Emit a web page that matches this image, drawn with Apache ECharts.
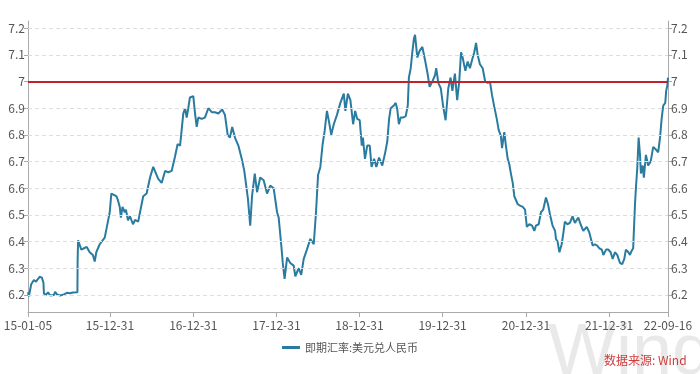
<!DOCTYPE html>
<html><head><meta charset="utf-8">
<script src="https://cdn.jsdelivr.net/npm/echarts@6/dist/echarts.min.js"></script>
<style>html,body{margin:0;padding:0;background:#fff}#c{width:700px;height:374px}</style>
</head><body><div id="c"></div>
<script>
const seriesName = '即期汇率:美元兑人民币';
const sourceText = '数据来源: Wind';
const watermarkText = 'Wind';
const xTickDates = ['2015-01-05','2015-12-31','2016-12-31','2017-12-31','2018-12-31','2019-12-31','2020-12-31','2021-12-31','2022-09-16'];
const yTicks = [6.2,6.3,6.4,6.5,6.6,6.7,6.8,6.9,7.0,7.1,7.2];
const refLevel = 7;
const yMin = 6.136, yMax = 7.227;
const dates = [
'2015-01-05','2015-01-09','2015-01-19','2015-01-31','2015-02-09','2015-02-25','2015-03-07','2015-03-14','2015-03-16','2015-03-25',
'2015-04-03','2015-04-12','2015-04-20','2015-04-29','2015-05-04','2015-05-12','2015-05-26','2015-06-12','2015-06-25','2015-07-08',
'2015-07-22','2015-08-10','2015-08-11','2015-08-13','2015-08-15','2015-08-27','2015-09-08','2015-09-20','2015-10-03','2015-10-17',
'2015-10-25','2015-11-01','2015-11-16','2015-12-08','2015-12-22','2015-12-30','2016-01-06','2016-01-13','2016-01-28','2016-02-04',
'2016-02-12','2016-02-17','2016-02-24','2016-03-05','2016-03-10','2016-03-19','2016-03-28','2016-04-10','2016-04-19','2016-05-03',
'2016-05-11','2016-05-25','2016-06-09','2016-06-24','2016-07-08','2016-07-16','2016-07-30','2016-08-14','2016-08-29','2016-09-12',
'2016-09-27','2016-10-12','2016-10-23','2016-11-03','2016-11-17','2016-11-25','2016-12-02','2016-12-09','2016-12-16','2016-12-31',
'2017-01-07','2017-01-15','2017-01-22','2017-02-06','2017-02-20','2017-03-07','2017-03-22','2017-04-05','2017-04-20','2017-05-07',
'2017-05-19','2017-05-31','2017-06-10','2017-06-20','2017-07-02','2017-07-17','2017-08-01','2017-08-12','2017-08-28','2017-09-07',
'2017-09-15','2017-09-27','2017-10-07','2017-10-21','2017-11-05','2017-11-20','2017-12-04','2017-12-19','2018-01-03','2018-01-10',
'2018-01-21','2018-01-28','2018-02-05','2018-02-16','2018-03-02','2018-03-17','2018-03-24','2018-04-08','2018-04-19','2018-04-30',
'2018-05-14','2018-05-29','2018-06-13','2018-06-23','2018-07-02','2018-07-12','2018-07-22','2018-07-31','2018-08-10','2018-08-20',
'2018-08-29','2018-09-09','2018-09-23','2018-10-08','2018-10-23','2018-10-30','2018-11-10','2018-11-21','2018-11-27','2018-12-03',
'2018-12-12','2018-12-21','2019-01-01','2019-01-10','2019-01-15','2019-01-24','2019-02-03','2019-02-14','2019-02-22','2019-03-05',
'2019-03-15','2019-03-27','2019-04-10','2019-04-22','2019-05-02','2019-05-10','2019-05-17','2019-05-31','2019-06-08','2019-06-15',
'2019-06-22','2019-06-30','2019-07-10','2019-07-22','2019-07-31','2019-08-05','2019-08-13','2019-08-20','2019-08-27','2019-09-01',
'2019-09-11','2019-09-21','2019-10-03','2019-10-15','2019-10-25','2019-11-04','2019-11-16','2019-11-28','2019-12-03','2019-12-12',
'2019-12-23','2020-01-02','2020-01-13','2020-01-25','2020-02-04','2020-02-12','2020-02-23','2020-03-04','2020-03-13','2020-03-21',
'2020-03-28','2020-04-09','2020-04-19','2020-04-29','2020-05-08','2020-05-18','2020-05-26','2020-06-02','2020-06-12','2020-06-24',
'2020-07-05','2020-07-16','2020-07-26','2020-08-04','2020-08-14','2020-08-25','2020-09-02','2020-09-12','2020-09-17','2020-09-27',
'2020-10-04','2020-10-12','2020-10-19','2020-10-26','2020-11-03','2020-11-10','2020-11-17','2020-11-25','2020-12-05','2020-12-17',
'2020-12-27','2021-01-04','2021-01-15','2021-01-27','2021-02-06','2021-02-13','2021-02-25','2021-03-07','2021-03-17','2021-03-29',
'2021-04-07','2021-04-16','2021-04-27','2021-05-08','2021-05-12','2021-05-19','2021-05-27','2021-06-06','2021-06-13','2021-06-20',
'2021-07-01','2021-07-12','2021-07-24','2021-08-03','2021-08-18','2021-08-28','2021-09-09','2021-09-24','2021-10-05','2021-10-20',
'2021-10-30','2021-11-09','2021-11-18','2021-11-29','2021-12-06','2021-12-18','2021-12-28','2022-01-07','2022-01-16','2022-01-26',
'2022-02-05','2022-02-17','2022-02-27','2022-03-08','2022-03-15','2022-03-26','2022-04-02','2022-04-09','2022-04-16','2022-04-24',
'2022-04-28','2022-05-04','2022-05-10','2022-05-16','2022-05-20','2022-05-28','2022-06-02','2022-06-11','2022-06-21','2022-07-02',
'2022-07-13','2022-07-25','2022-08-04','2022-08-12','2022-08-19','2022-08-26','2022-09-04','2022-09-08','2022-09-13','2022-09-16'
];
const rates = [
6.21,6.195,6.24,6.256,6.25,6.268,6.265,6.245,6.205,6.20,
6.21,6.198,6.205,6.20,6.212,6.202,6.198,6.202,6.208,6.206,
6.209,6.21,6.33,6.405,6.41,6.37,6.375,6.38,6.36,6.35,
6.325,6.36,6.39,6.415,6.475,6.51,6.58,6.575,6.57,6.555,
6.53,6.49,6.53,6.51,6.52,6.48,6.495,6.465,6.481,6.475,
6.51,6.57,6.58,6.64,6.68,6.685,6.635,6.62,6.665,6.66,
6.665,6.72,6.765,6.76,6.88,6.90,6.865,6.90,6.94,6.945,
6.885,6.83,6.865,6.86,6.865,6.90,6.885,6.885,6.88,6.895,
6.875,6.80,6.79,6.83,6.79,6.76,6.71,6.665,6.56,6.46,
6.57,6.655,6.585,6.64,6.63,6.58,6.61,6.60,6.51,6.49,
6.39,6.32,6.26,6.34,6.32,6.31,6.27,6.30,6.275,6.335,
6.37,6.41,6.39,6.51,6.65,6.68,6.765,6.815,6.89,6.845,
6.80,6.84,6.875,6.92,6.955,6.89,6.955,6.93,6.93,6.84,
6.89,6.86,6.855,6.76,6.79,6.71,6.76,6.76,6.68,6.71,
6.68,6.715,6.685,6.73,6.775,6.86,6.90,6.91,6.92,6.895,
6.84,6.865,6.865,6.87,6.91,7.015,7.05,7.11,7.16,7.175,
7.09,7.115,7.13,7.08,7.035,6.98,7.00,7.025,7.05,6.995,
6.975,6.91,6.855,6.975,7.015,6.965,7.03,6.93,7.00,7.11,
7.09,7.04,7.075,7.05,7.08,7.11,7.145,7.10,7.065,7.05,
7.00,6.995,7.00,6.95,6.905,6.86,6.82,6.795,6.75,6.81,
6.76,6.71,6.69,6.655,6.62,6.57,6.565,6.54,6.535,6.53,
6.52,6.455,6.465,6.46,6.44,6.46,6.465,6.51,6.52,6.565,
6.54,6.50,6.46,6.44,6.41,6.40,6.36,6.39,6.43,6.475,
6.465,6.47,6.495,6.47,6.49,6.465,6.44,6.455,6.435,6.385,
6.39,6.385,6.375,6.37,6.35,6.37,6.37,6.36,6.335,6.36,
6.35,6.32,6.315,6.335,6.37,6.36,6.35,6.365,6.375,6.54,
6.60,6.675,6.79,6.725,6.655,6.685,6.64,6.725,6.685,6.70,
6.755,6.745,6.735,6.79,6.86,6.91,6.92,6.965,6.985,7.015
];

const ts = s => Date.parse(s + 'T00:00:00Z');
const pad = n => (n < 10 ? '0' : '') + n;
const fmtDate = v => { const d = new Date(v); return String(d.getUTCFullYear()).slice(2) + '-' + pad(d.getUTCMonth() + 1) + '-' + pad(d.getUTCDate()); };
const xTickVals = xTickDates.map(ts);
const lineData = dates.map((d, i) => [ts(d), rates[i]]);
const FONT = '"Noto Sans CJK SC","Noto Sans",sans-serif';
const axisGray = '#aaaaaa';
const labelColor = '#555555';
const lineColor = '#2a7ba0';

function yAxisCfg(pos) {
  return {
    type: 'value', position: pos, min: yMin, max: yMax,
    axisLine: { show: true, lineStyle: { color: axisGray } },
    axisTick: { show: true, inside: false, length: 4, customValues: yTicks, lineStyle: { color: axisGray } },
    axisLabel: { customValues: yTicks, color: labelColor, fontSize: 12, fontFamily: FONT, margin: 3,
      formatter: v => String(Math.round(v * 10) / 10) },
    splitLine: { show: false }
  };
}

const chart = echarts.init(document.getElementById('c'), null, { renderer: 'canvas' });
chart.setOption({
  animation: false,
  backgroundColor: '#ffffff',
  grid: { left: 28, right: 32, top: 21, bottom: 62, containLabel: false },
  legend: {
    data: [{ name: seriesName, icon: 'rect' }], bottom: 16, left: 'center',
    itemWidth: 18, itemHeight: 3, itemGap: 6,
    textStyle: { color: labelColor, fontSize: 11, fontFamily: FONT }
  },
  xAxis: {
    type: 'value', min: xTickVals[0], max: xTickVals[xTickVals.length - 1],
    axisLine: { show: true, lineStyle: { color: axisGray } },
    axisTick: { show: true, length: 5, customValues: xTickVals, lineStyle: { color: axisGray } },
    axisLabel: { customValues: xTickVals, formatter: fmtDate, color: labelColor, fontSize: 12, fontFamily: FONT, margin: 7,
      showMinLabel: true, showMaxLabel: true, hideOverlap: false },
    splitLine: { show: false }
  },
  yAxis: [yAxisCfg('left'), yAxisCfg('right')],
  graphic: [
    { type: 'text', left: 548, top: 318, z: 0, silent: true,
      style: { text: watermarkText, fontSize: 72, fontFamily: '"Liberation Sans",sans-serif', fill: '#e9e9e9' } },
    { type: 'text', left: 604, top: 354, z: 10, silent: true,
      style: { text: sourceText, fontSize: 12, fontFamily: FONT, fill: '#d23b3b' } }
  ],
  series: [
    {
      name: 'grid', type: 'line', data: [], silent: true, z: 1, legendHoverLink: false,
      markLine: {
        silent: true, symbol: ['none', 'none'], animation: false,
        label: { show: false },
        lineStyle: { color: '#dddddd', type: [4, 3], width: 1 },
        data: yTicks.filter(t => t !== refLevel).map(t => ({ yAxis: t }))
      }
    },
    {
      name: seriesName, type: 'line', data: lineData, showSymbol: false, symbol: 'none', z: 3,
      lineStyle: { color: lineColor, width: 2 }, itemStyle: { color: lineColor },
      markLine: {
        silent: true, symbol: ['none', 'none'], animation: false,
        label: { show: false },
        lineStyle: { color: '#c3202d', type: 'solid', width: 2 },
        data: [{ yAxis: refLevel }]
      }
    }
  ]
});
</script>
</body></html>
